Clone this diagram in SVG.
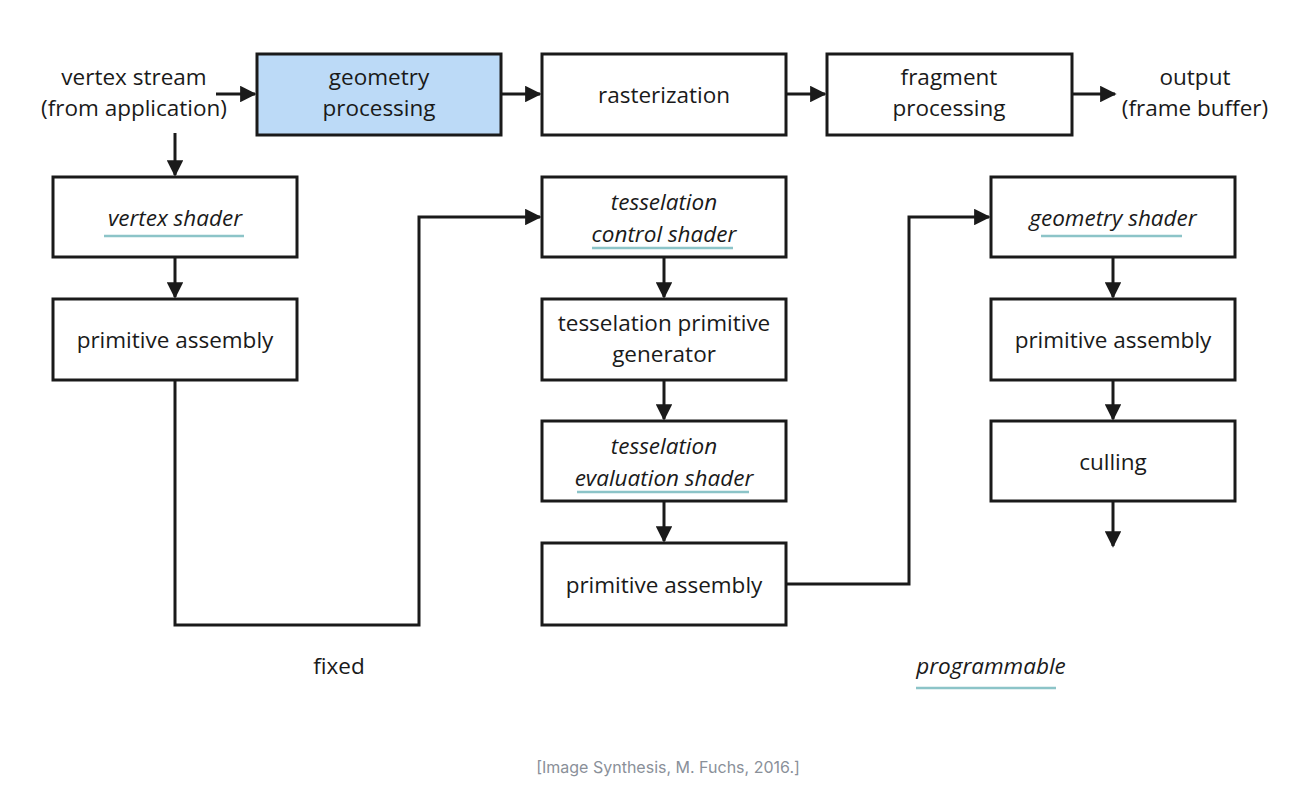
<svg xmlns="http://www.w3.org/2000/svg" width="1313" height="785" viewBox="0 0 1313 785">
<style>
.box{fill:#fff;stroke:#1a1a1a;stroke-width:3}
.hl{fill:#bcdaf7}
.t{font-family:"Open Sans","Liberation Sans",sans-serif;font-size:22.5px;fill:#1a1a1a;text-anchor:middle}
.i{font-style:italic;font-weight:400}
.ul{stroke:#8cc4c8;stroke-width:2.5}
.c{fill:none;stroke:#1a1a1a;stroke-width:3}
.cap{font-family:"Inter","Liberation Sans",sans-serif;font-size:16px;fill:#8a9099;text-anchor:middle}
</style>
<defs>
<marker id="a" viewBox="0 0 10 10" refX="9" refY="5" markerWidth="5.5" markerHeight="5.5" markerUnits="strokeWidth" orient="auto">
<path d="M0,0 L10,5 L0,10 z" fill="#1a1a1a"/>
</marker>
</defs>
<rect width="1313" height="785" fill="#fff"/>
<g id="connectors">
<line class="c" x1="216" y1="94" x2="255" y2="94" marker-end="url(#a)"/>
<line class="c" x1="501" y1="94" x2="540" y2="94" marker-end="url(#a)"/>
<line class="c" x1="786" y1="94" x2="825" y2="94" marker-end="url(#a)"/>
<line class="c" x1="1072" y1="94" x2="1115" y2="94" marker-end="url(#a)"/>
<line class="c" x1="175" y1="133" x2="175" y2="175" marker-end="url(#a)"/>
<line class="c" x1="175" y1="257" x2="175" y2="297" marker-end="url(#a)"/>
<polyline class="c" points="175,380 175,625 419,625 419,217 540,217" marker-end="url(#a)"/>
<line class="c" x1="664" y1="257" x2="664" y2="297" marker-end="url(#a)"/>
<line class="c" x1="664" y1="380" x2="664" y2="419" marker-end="url(#a)"/>
<line class="c" x1="664" y1="501" x2="664" y2="541" marker-end="url(#a)"/>
<polyline class="c" points="786,584 909,584 909,217 989,217" marker-end="url(#a)"/>
<line class="c" x1="1113" y1="257" x2="1113" y2="297" marker-end="url(#a)"/>
<line class="c" x1="1113" y1="380" x2="1113" y2="419" marker-end="url(#a)"/>
<line class="c" x1="1113" y1="501" x2="1113" y2="546" marker-end="url(#a)"/>
</g>
<g id="vertex-stream">
<text class="t" x="134" y="85">vertex stream</text>
<text class="t" x="134" y="116">(from application)</text>
</g>
<g id="geometry-processing">
<rect class="box hl" x="257" y="54" width="244" height="81"/>
<text class="t" x="379" y="85">geometry</text>
<text class="t" x="379" y="116">processing</text>
</g>
<g id="rasterization">
<rect class="box" x="542" y="54" width="244" height="81"/>
<text class="t" x="664" y="103">rasterization</text>
</g>
<g id="fragment-processing">
<rect class="box" x="827" y="54" width="245" height="81"/>
<text class="t" x="949" y="85">fragment</text>
<text class="t" x="949" y="116">processing</text>
</g>
<g id="output">
<text class="t" x="1195" y="85">output</text>
<text class="t" x="1195" y="116">(frame buffer)</text>
</g>
<g id="vertex-shader">
<rect class="box" x="53" y="177" width="244" height="80"/>
<text class="t i" x="175" y="226">vertex shader</text>
<line class="ul" x1="104" y1="236" x2="244" y2="236"/>
</g>
<g id="primitive-assembly-1">
<rect class="box" x="53" y="299" width="244" height="81"/>
<text class="t" x="175" y="348">primitive assembly</text>
</g>
<g id="tess-control">
<rect class="box" x="542" y="177" width="244" height="80"/>
<text class="t i" x="664" y="210">tesselation</text>
<text class="t i" x="664" y="242">control shader</text>
<line class="ul" x1="592" y1="248" x2="733" y2="248"/>
</g>
<g id="tess-primitive-generator">
<rect class="box" x="542" y="299" width="244" height="81"/>
<text class="t" x="664" y="331">tesselation primitive</text>
<text class="t" x="664" y="362">generator</text>
</g>
<g id="tess-evaluation">
<rect class="box" x="542" y="421" width="244" height="80"/>
<text class="t i" x="664" y="454">tesselation</text>
<text class="t i" x="664" y="486">evaluation shader</text>
<line class="ul" x1="577" y1="492" x2="749" y2="492"/>
</g>
<g id="primitive-assembly-2">
<rect class="box" x="542" y="543" width="244" height="82"/>
<text class="t" x="664" y="593">primitive assembly</text>
</g>
<g id="geometry-shader">
<rect class="box" x="991" y="177" width="244" height="80"/>
<text class="t i" x="1113" y="226">geometry shader</text>
<line class="ul" x1="1041" y1="236" x2="1182" y2="236"/>
</g>
<g id="primitive-assembly-3">
<rect class="box" x="991" y="299" width="244" height="81"/>
<text class="t" x="1113" y="348">primitive assembly</text>
</g>
<g id="culling">
<rect class="box" x="991" y="421" width="244" height="80"/>
<text class="t" x="1113" y="470">culling</text>
</g>
<g id="legend">
<text class="t" x="339" y="674">fixed</text>
<text class="t i" x="991" y="674">programmable</text>
<line class="ul" x1="916" y1="688" x2="1056" y2="688"/>
</g>
<text class="cap" x="668" y="773">[Image Synthesis, M. Fuchs, 2016.]</text>
</svg>
